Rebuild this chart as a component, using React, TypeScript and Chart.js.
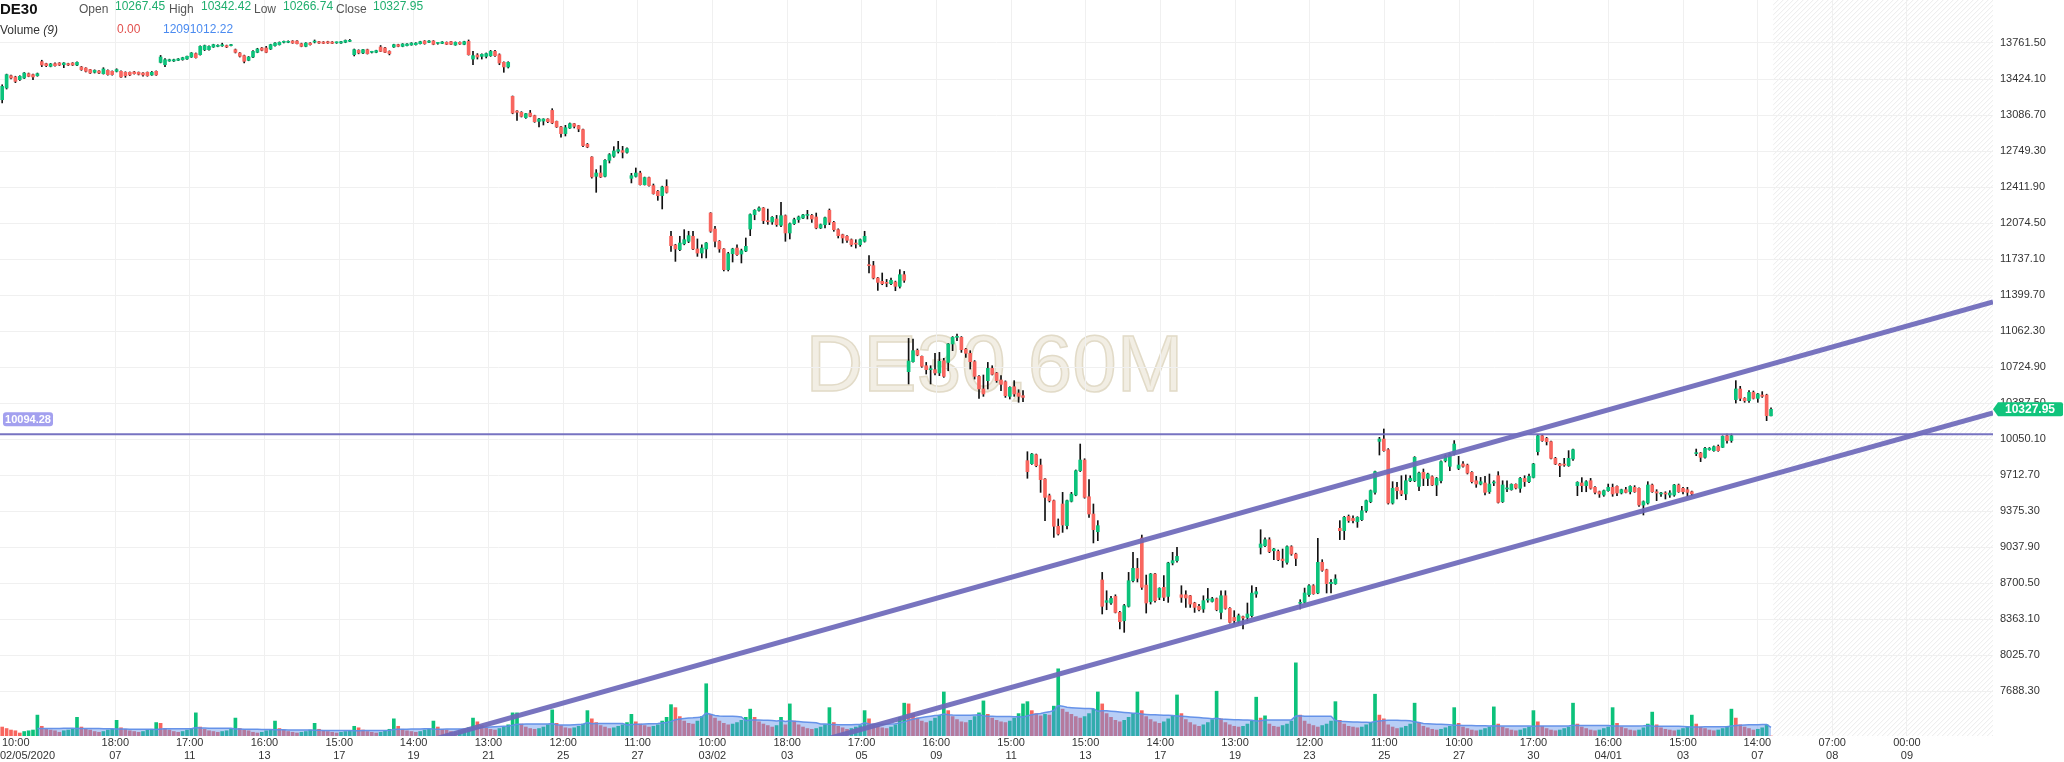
import React, { useEffect, useRef } from 'react';
import { Chart, registerables } from 'chart.js';

Chart.register(...registerables);

// DE30 hourly candles, one entry per bar (oldest first)
const opens: number[] = [
  13230, 13340, 13455, 13443, 13418, 13433, 13474, 13465, 13455, 13587,
  13568, 13543, 13568, 13574, 13558, 13568, 13574, 13555, 13537, 13527,
  13512, 13487, 13499, 13474, 13505, 13496, 13496, 13496, 13487, 13487,
  13490, 13487, 13480, 13487, 13462, 13496, 13580, 13558, 13593, 13593,
  13599, 13605, 13612, 13630, 13662, 13652, 13699, 13699, 13724, 13730,
  13735, 13737, 13737, 13699, 13668, 13643, 13599, 13630, 13674, 13715,
  13715, 13705, 13737, 13746, 13768, 13768, 13780, 13780, 13755, 13730,
  13761, 13770, 13774, 13771, 13774, 13771, 13763, 13761, 13768, 13777,
  13652, 13693, 13668, 13699, 13674, 13674, 13724, 13715, 13683, 13724,
  13746, 13730, 13737, 13743, 13746, 13755, 13780, 13768, 13780, 13758,
  13758, 13768, 13774, 13743, 13768, 13749, 13777, 13611, 13649, 13636,
  13636, 13643, 13683, 13652, 13580, 13537, 13261, 13124, 13112, 13062,
  13105, 13081, 13027, 13030, 13049, 13130, 13027, 12975, 12912, 12965,
  13005, 12987, 12950, 12812, 12693, 12512, 12543, 12512, 12662, 12700,
  12746, 12753, 12737, 12493, 12512, 12543, 12434, 12500, 12425, 12372,
  12331, 12418, 11950, 11868, 11825, 11880, 11903, 11950, 11831, 11793,
  11831, 12168, 12018, 11903, 11831, 11637, 11787, 11840, 11784, 11812,
  12018, 12153, 12193, 12215, 12096, 12084, 12112, 12053, 12143, 11981,
  12068, 12106, 12121, 12146, 12146, 12131, 12028, 12059, 12193, 12081,
  12012, 11965, 11950, 11918, 11880, 11871, 11903, 11678, 11675, 11559,
  11528, 11512, 11506, 11521, 11481, 11590, 10681, 10775, 10881, 10825,
  10737, 10700, 10700, 10669, 10784, 10768, 10941, 11003, 11003, 10893,
  10853, 10775, 10637, 10519, 10597, 10712, 10669, 10603, 10587, 10450,
  10540, 10481, 10456, 9847, 9819, 9903, 9806, 9675, 9519, 9472,
  9232, 9441, 9238, 9466, 9525, 9753, 9853, 9509, 9347, 9181,
  8729, 8519, 8513, 8575, 8425, 8347, 8482, 8722, 8838, 9122,
  8681, 8525, 8785, 8566, 8660, 8575, 8888, 8910, 8590, 8590,
  8581, 8513, 8482, 8456, 8541, 8528, 8553, 8425, 8581, 8463,
  8378, 8340, 8385, 8378, 8394, 8597, 9034, 9050, 9106, 9003,
  8997, 8925, 8894, 9041, 8972, 8510, 8519, 8591, 8675, 8607,
  8894, 8825, 8694, 8694, 9213, 9191, 9325, 9306, 9275, 9294,
  9378, 9463, 9550, 10028, 10050, 9950, 9450, 9597, 9566, 9535,
  9659, 9659, 9606, 9738, 9681, 9697, 9619, 9659, 9847, 9794,
  9910, 9775, 9816, 9806, 9738, 9659, 9628, 9638, 9556, 9638,
  9706, 9463, 9582, 9575, 9625, 9588, 9681, 9650, 9690, 9931,
  10081, 10056, 10025, 9869, 9816, 9810, 9800, 9863, 9613, 9638,
  9613, 9659, 9597, 9556, 9525, 9566, 9597, 9606, 9544, 9575,
  9556, 9597, 9588, 9431, 9450, 9619, 9556, 9535, 9538, 9525,
  9525, 9619, 9588, 9575, 9556, 9913, 9919, 9878, 9950, 9941,
  9981, 9972, 10081, 10035, 10419, 10519, 10431, 10409, 10487, 10431,
  10462, 10462, 10267.45,
];

const highs: number[] = [
  13370, 13470, 13462, 13450, 13455, 13485, 13480, 13470, 13480, 13600,
  13572, 13570, 13575, 13578, 13578, 13572, 13578, 13585, 13542, 13530,
  13515, 13510, 13502, 13530, 13510, 13500, 13520, 13500, 13492, 13490,
  13495, 13490, 13484, 13490, 13495, 13500, 13645, 13615, 13610, 13610,
  13616, 13628, 13640, 13672, 13668, 13735, 13742, 13735, 13750, 13745,
  13760, 13742, 13750, 13705, 13672, 13648, 13635, 13690, 13712, 13720,
  13730, 13750, 13766, 13772, 13780, 13782, 13784, 13784, 13760, 13765,
  13765, 13790, 13778, 13775, 13778, 13775, 13772, 13778, 13790, 13795,
  13705, 13698, 13702, 13704, 13684, 13694, 13738, 13720, 13688, 13750,
  13750, 13756, 13756, 13765, 13765, 13778, 13784, 13784, 13784, 13768,
  13775, 13772, 13778, 13772, 13772, 13778, 13790, 13683, 13662, 13660,
  13668, 13692, 13692, 13660, 13585, 13586, 13265, 13128, 13118, 13102,
  13130, 13085, 13055, 13052, 13052, 13146, 13030, 12980, 12990, 13012,
  13008, 12990, 12955, 12820, 12696, 12575, 12612, 12670, 12725, 12790,
  12840, 12793, 12780, 12540, 12590, 12560, 12505, 12505, 12440, 12380,
  12420, 12480, 11997, 11875, 11950, 12012, 11997, 11997, 11925, 11870,
  11892, 12172, 12043, 11910, 11835, 11800, 11838, 11870, 11830, 11934,
  12160, 12200, 12225, 12220, 12205, 12135, 12146, 12268, 12150, 12075,
  12120, 12140, 12155, 12193, 12155, 12168, 12065, 12130, 12206, 12090,
  12020, 11970, 11956, 11925, 11918, 11925, 11997, 11768, 11715, 11565,
  11606, 11546, 11559, 11530, 11637, 11621, 10993, 10987, 10894, 10828,
  10768, 10737, 10853, 10862, 10806, 10945, 11010, 11034, 11010, 10900,
  10878, 10785, 10645, 10650, 10768, 10737, 10675, 10644, 10595, 10540,
  10597, 10512, 10503, 9931, 9915, 9909, 9862, 9680, 9534, 9478,
  9301, 9550, 9478, 9550, 9760, 10003, 9865, 9669, 9441, 9285,
  8800, 8628, 8575, 8590, 8435, 8500, 8800, 8988, 8931, 9150,
  8775, 8790, 8790, 8656, 8770, 8895, 8988, 9034, 8675, 8628,
  8585, 8520, 8500, 8581, 8650, 8566, 8560, 8628, 8628, 8470,
  8441, 8410, 8390, 8513, 8675, 8660, 9200, 9125, 9125, 9025,
  9010, 9019, 9050, 9050, 8980, 8544, 8653, 8685, 8685, 9119,
  8919, 8830, 8732, 8778, 9285, 9325, 9338, 9331, 9322, 9419,
  9478, 9572, 9750, 10066, 10144, 9960, 9650, 9644, 9706, 9713,
  9706, 9885, 9740, 9769, 9730, 9705, 9690, 9845, 9900, 9920,
  10035, 9888, 9838, 9815, 9745, 9700, 9690, 9700, 9722, 9659,
  9744, 9659, 9659, 9630, 9630, 9690, 9706, 9722, 9822, 10090,
  10090, 10066, 10030, 9878, 9822, 9869, 9941, 9955, 9650, 9688,
  9660, 9681, 9605, 9562, 9572, 9628, 9628, 9612, 9580, 9597,
  9612, 9613, 9592, 9470, 9650, 9628, 9575, 9550, 9556, 9566,
  9625, 9628, 9597, 9597, 9562, 9956, 9925, 9972, 9970, 9985,
  9994, 10080, 10097, 10097, 10597, 10544, 10438, 10503, 10500, 10478,
  10494, 10470, 10342.42,
];

const lows: number[] = [
  13200, 13330, 13425, 13390, 13410, 13428, 13445, 13418, 13450, 13540,
  13540, 13538, 13545, 13550, 13530, 13550, 13550, 13550, 13505, 13490,
  13475, 13480, 13475, 13470, 13460, 13460, 13490, 13438, 13440, 13455,
  13470, 13462, 13450, 13450, 13458, 13458, 13575, 13540, 13590, 13588,
  13596, 13600, 13608, 13626, 13620, 13648, 13690, 13694, 13720, 13726,
  13730, 13718, 13733, 13668, 13630, 13575, 13595, 13625, 13670, 13688,
  13670, 13700, 13732, 13742, 13762, 13764, 13758, 13752, 13726, 13726,
  13742, 13762, 13758, 13755, 13758, 13755, 13758, 13758, 13764, 13774,
  13640, 13660, 13662, 13658, 13668, 13670, 13680, 13670, 13650, 13720,
  13726, 13726, 13734, 13740, 13742, 13752, 13750, 13765, 13745, 13750,
  13755, 13746, 13745, 13740, 13748, 13745, 13648, 13558, 13611, 13611,
  13621, 13636, 13636, 13558, 13487, 13527, 13098, 13036, 13068, 13055,
  13070, 13018, 12975, 12993, 13015, 13005, 12970, 12880, 12890, 12960,
  12965, 12930, 12790, 12780, 12495, 12362, 12500, 12506, 12637, 12690,
  12730, 12684, 12730, 12450, 12505, 12430, 12430, 12420, 12345, 12287,
  12206, 12355, 11809, 11715, 11815, 11870, 11890, 11825, 11762, 11747,
  11747, 11987, 11850, 11800, 11625, 11625, 11709, 11770, 11700, 11806,
  11956, 12105, 12185, 12068, 12062, 12062, 12043, 12040, 11903, 11925,
  12060, 12080, 12115, 12112, 12080, 12020, 12022, 12028, 12059, 11997,
  11934, 11887, 11893, 11856, 11840, 11856, 11895, 11606, 11550, 11443,
  11496, 11477, 11496, 11440, 11465, 11518, 10566, 10770, 10830, 10722,
  10659, 10566, 10650, 10644, 10628, 10690, 10878, 10972, 10862, 10815,
  10706, 10612, 10431, 10450, 10519, 10650, 10581, 10503, 10440, 10425,
  10450, 10394, 10400, 9682, 9812, 9790, 9550, 9285, 9460, 9128,
  9150, 9175, 9207, 9460, 9518, 9745, 9495, 9316, 9076, 9097,
  8410, 8450, 8500, 8420, 8270, 8238, 8475, 8710, 8710, 8640,
  8419, 8503, 8520, 8544, 8535, 8519, 8870, 8895, 8519, 8472,
  8472, 8425, 8440, 8425, 8520, 8522, 8440, 8363, 8455, 8325,
  8316, 8325, 8270, 8347, 8380, 8566, 8972, 9040, 8985, 8919,
  8910, 8847, 8878, 8960, 8863, 8457, 8513, 8575, 8595, 8600,
  8810, 8607, 8607, 8688, 9107, 9107, 9269, 9263, 9222, 9285,
  9363, 9453, 9534, 9900, 9935, 9440, 9440, 9488, 9519, 9481,
  9650, 9650, 9566, 9613, 9613, 9613, 9519, 9638, 9835, 9753,
  9900, 9763, 9785, 9722, 9638, 9597, 9620, 9525, 9540, 9613,
  9450, 9455, 9556, 9570, 9582, 9550, 9606, 9640, 9685, 9900,
  10028, 9994, 9863, 9810, 9697, 9794, 9794, 9850, 9519, 9556,
  9556, 9580, 9535, 9503, 9513, 9560, 9513, 9519, 9535, 9545,
  9535, 9550, 9419, 9338, 9440, 9550, 9472, 9513, 9488, 9503,
  9513, 9550, 9535, 9513, 9519, 9894, 9838, 9870, 9945, 9935,
  9935, 9970, 10012, 10019, 10387, 10409, 10394, 10394, 10425, 10394,
  10440, 10222, 10266.74,
];

const closes: number[] = [
  13355, 13465, 13433, 13402, 13449, 13480, 13449, 13443, 13474, 13555,
  13549, 13565, 13549, 13555, 13574, 13555, 13555, 13580, 13512, 13496,
  13480, 13505, 13480, 13518, 13465, 13465, 13512, 13443, 13455, 13462,
  13474, 13468, 13462, 13455, 13487, 13462, 13630, 13605, 13605, 13605,
  13612, 13624, 13637, 13668, 13624, 13730, 13737, 13730, 13746, 13740,
  13745, 13724, 13746, 13674, 13637, 13590, 13630, 13683, 13705, 13693,
  13674, 13746, 13761, 13768, 13770, 13777, 13761, 13755, 13730, 13761,
  13746, 13774, 13761, 13758, 13761, 13758, 13766, 13774, 13786, 13780,
  13699, 13668, 13699, 13662, 13677, 13690, 13683, 13674, 13662, 13746,
  13730, 13752, 13752, 13761, 13761, 13774, 13755, 13780, 13749, 13761,
  13771, 13749, 13749, 13768, 13752, 13774, 13652, 13643, 13630, 13655,
  13662, 13683, 13643, 13574, 13537, 13580, 13105, 13112, 13074, 13099,
  13074, 13024, 13049, 13049, 13024, 13012, 12975, 12912, 12968, 13005,
  12980, 12955, 12800, 12787, 12506, 12543, 12506, 12662, 12715, 12750,
  12762, 12737, 12771, 12518, 12543, 12434, 12500, 12425, 12350, 12331,
  12412, 12362, 11862, 11831, 11887, 11918, 11956, 11831, 11793, 11840,
  11887, 11997, 11903, 11831, 11637, 11787, 11831, 11778, 11815, 11856,
  12153, 12193, 12215, 12096, 12087, 12128, 12059, 12143, 11981, 12068,
  12106, 12131, 12150, 12150, 12112, 12028, 12059, 12124, 12081, 12012,
  11956, 11934, 11912, 11871, 11877, 11918, 11950, 11675, 11559, 11518,
  11506, 11509, 11537, 11481, 11590, 11537, 10781, 10878, 10837, 10731,
  10700, 10706, 10669, 10778, 10637, 10941, 11003, 11006, 10887, 10853,
  10775, 10637, 10519, 10472, 10712, 10656, 10597, 10562, 10456, 10534,
  10472, 10450, 10440, 9744, 9909, 9800, 9669, 9503, 9472, 9232,
  9160, 9244, 9472, 9534, 9753, 9853, 9503, 9347, 9200, 9238,
  8482, 8535, 8556, 8425, 8338, 8488, 8722, 8838, 8744, 8660,
  8513, 8785, 8535, 8650, 8566, 8888, 8910, 8950, 8566, 8560,
  8503, 8472, 8450, 8535, 8544, 8553, 8450, 8581, 8463, 8331,
  8347, 8394, 8372, 8410, 8606, 8619, 9066, 9106, 8994, 9019,
  8919, 8910, 9041, 8972, 8931, 8516, 8607, 8675, 8600, 8894,
  8819, 8694, 8707, 8738, 9191, 9316, 9285, 9285, 9316, 9378,
  9472, 9566, 9744, 10050, 9941, 9450, 9588, 9566, 9535, 9659,
  9681, 9878, 9731, 9681, 9722, 9619, 9681, 9838, 9888, 9910,
  10003, 9806, 9794, 9731, 9650, 9628, 9650, 9550, 9628, 9641,
  9456, 9619, 9585, 9625, 9591, 9681, 9650, 9700, 9816, 10081,
  10035, 10025, 9869, 9816, 9800, 9806, 9869, 9950, 9644, 9613,
  9650, 9588, 9550, 9535, 9566, 9597, 9535, 9544, 9575, 9550,
  9606, 9556, 9431, 9463, 9619, 9556, 9544, 9538, 9535, 9544,
  9619, 9556, 9556, 9550, 9535, 9919, 9878, 9963, 9963, 9978,
  9941, 10075, 10035, 10081, 10519, 10431, 10409, 10487, 10431, 10472,
  10450, 10269, 10327.95,
];

// volume per bar, millions
const volumes: number[] = [
  12, 10, 8, 7, 4, 6, 7, 8, 28, 13,
  9, 8, 7, 5, 7, 8, 9, 25, 12, 9,
  8, 6, 5, 6, 8, 9, 21, 11, 9, 7,
  6, 5, 6, 8, 9, 18, 17, 10, 8, 6,
  5, 6, 8, 10, 31, 12, 9, 7, 6, 5,
  6, 7, 9, 24, 10, 8, 7, 5, 4, 5,
  7, 8, 20, 10, 8, 6, 5, 4, 5, 6,
  8, 17, 9, 7, 6, 5, 4, 5, 6, 7,
  13, 11, 8, 6, 5, 4, 5, 7, 9, 23,
  13, 9, 7, 6, 5, 6, 8, 9, 20, 12,
  9, 8, 6, 5, 7, 9, 11, 24, 19, 14,
  11, 9, 8, 10, 12, 15, 31, 31, 16, 12,
  10, 9, 10, 12, 15, 35, 17, 14, 11, 10,
  11, 13, 16, 34, 23, 18, 14, 12, 10, 11,
  13, 15, 18, 29, 19, 16, 14, 12, 13, 15,
  20, 25, 42, 38, 26, 20, 17, 16, 20, 26,
  70, 29, 24, 20, 17, 15, 16, 18, 21, 25,
  36, 25, 19, 16, 14, 12, 14, 25, 15, 43,
  20, 15, 12, 10, 9, 10, 12, 15, 38, 18,
  13, 11, 9, 10, 12, 14, 34, 23, 16, 13,
  11, 10, 12, 15, 25, 44, 43, 30, 24, 20,
  18, 20, 24, 28, 59, 34, 26, 22, 19, 18,
  21, 26, 31, 47, 29, 24, 21, 19, 18, 20,
  24, 30, 43, 46, 34, 30, 27, 29, 28, 40,
  90, 36, 32, 29, 26, 24, 26, 30, 36, 59,
  43, 30, 25, 21, 19, 21, 25, 30, 59, 34,
  26, 22, 19, 17, 19, 23, 27, 55, 30, 22,
  18, 15, 13, 15, 18, 22, 60, 23, 18, 15,
  13, 12, 13, 16, 20, 52, 24, 27, 16, 13,
  12, 14, 16, 20, 98, 28, 20, 16, 14, 12,
  14, 16, 20, 46, 21, 16, 13, 12, 11, 12,
  15, 18, 56, 28, 23, 15, 12, 10, 11, 13,
  16, 44, 18, 13, 11, 9, 8, 9, 11, 13,
  38, 17, 12, 10, 8, 7, 8, 10, 12, 39,
  16, 12, 10, 8, 7, 8, 10, 12, 34, 19,
  13, 10, 8, 7, 8, 10, 12, 44, 16, 12,
  10, 8, 7, 8, 10, 12, 38, 17, 12, 10,
  8, 7, 8, 11, 16, 32, 15, 11, 9, 8,
  7, 8, 10, 12, 28, 16, 12, 10, 8, 7,
  8, 10, 13, 36, 24, 15, 12, 10, 8, 9,
  11, 15, 0,
];

const priceTicks: number[] = [
  7688.3, 8025.7, 8363.1, 8700.5, 9037.9, 9375.3, 9712.7, 10050.1, 10387.5, 10724.9,
  11062.3, 11399.7, 11737.1, 12074.5, 12411.9, 12749.3, 13086.7, 13424.1, 13761.5,
];

// bar position of each time label on the bottom axis
const tickSlots: number[] = [
  25.7, 42.6, 59.6, 76.6, 93.5, 110.5, 127.5, 144.4, 161.4, 178.4, 195.3, 212.3, 229.3,
  246.2, 263.2, 280.2, 297.1, 314.1, 331.1, 348.0, 365.0, 382.0, 398.9, 415.9, 432.9,
];
const tickTimes: string[] = [
  '18:00', '17:00', '16:00', '15:00', '14:00', '13:00', '12:00', '11:00', '10:00', '18:00',
  '17:00', '16:00', '15:00', '15:00', '14:00', '13:00', '12:00', '11:00', '10:00', '17:00',
  '16:00', '15:00', '14:00', '07:00', '00:00',
];
const tickDays: string[] = [
  '07', '11', '13', '17', '19', '21', '25', '27', '03/02', '03',
  '05', '09', '11', '13', '17', '19', '23', '25', '27', '30',
  '04/01', '03', '07', '08', '09',
];

const levelPrice = 10094.28;
const upperChannel = [{ x: 90, y: 7142 }, { x: 452.45, y: 11334 }];
const lowerChannel = [{ x: 180, y: 7153 }, { x: 452.45, y: 10294 }];

const symbol = 'DE30';
const lastOpen = '10267.45';
const lastHigh = '10342.42';
const lastLow = '10266.74';
const lastClose = '10327.95';
const lastVolume = '0.00';
const volumeAvgText = '12091012.22';

const UP = '#0cc27b';
const DOWN = '#f8665f';
const CHANNEL = 'rgba(108,104,186,0.92)';
const FONT = "'Liberation Sans', Arial, sans-serif";

const decorPlugin = {
  id: 'decor',
  beforeDraw(chart: any) {
    const { ctx, chartArea: a, scales } = chart;
    const hatchStart = scales.x.getPixelForValue(opens.length - 0.5);
    const h = a.bottom - a.top;

    // future area hatch
    ctx.save();
    ctx.beginPath();
    ctx.rect(hatchStart, a.top, a.right - hatchStart, h);
    ctx.clip();
    ctx.strokeStyle = '#ebebeb';
    ctx.lineWidth = 1;
    ctx.beginPath();
    for (let d = -h; d < a.right - hatchStart; d += 5) {
      ctx.moveTo(hatchStart + d, a.bottom);
      ctx.lineTo(hatchStart + d + h, a.top);
    }
    ctx.stroke();
    ctx.restore();

    // watermark
    ctx.save();
    ctx.font = `80px ${FONT}`;
    ctx.textAlign = 'center';
    ctx.textBaseline = 'alphabetic';
    ctx.fillStyle = '#f2eee4';
    ctx.fillText('DE30,60M', (a.left + a.right) / 2 - 2, a.top + 391);
    ctx.strokeStyle = '#e2dbc8';
    ctx.lineWidth = 1.5;
    ctx.strokeText('DE30,60M', (a.left + a.right) / 2 - 2, a.top + 391);
    ctx.restore();
  },
  afterDraw(chart: any) {
    const { ctx, chartArea: a, scales } = chart;
    ctx.save();

    // last price tag on the price axis
    const py = scales.y.getPixelForValue(parseFloat(lastClose));
    ctx.fillStyle = '#10c47c';
    ctx.beginPath();
    ctx.moveTo(a.right, py);
    ctx.lineTo(a.right + 5, py - 7);
    ctx.lineTo(a.right + 68, py - 7);
    ctx.quadraticCurveTo(a.right + 70, py - 7, a.right + 70, py - 5);
    ctx.lineTo(a.right + 70, py + 5);
    ctx.quadraticCurveTo(a.right + 70, py + 7, a.right + 68, py + 7);
    ctx.lineTo(a.right + 5, py + 7);
    ctx.closePath();
    ctx.fill();
    ctx.fillStyle = '#fff';
    ctx.font = `bold 12px ${FONT}`;
    ctx.textAlign = 'center';
    ctx.textBaseline = 'middle';
    ctx.fillText(lastClose, a.right + 37, py + 0.5);

    // level tag on the left
    const ly = scales.y.getPixelForValue(levelPrice);
    ctx.fillStyle = '#a3a0ef';
    ctx.beginPath();
    if (ctx.roundRect) ctx.roundRect(3, ly - 22, 50, 14, 3);
    else ctx.rect(3, ly - 22, 50, 14);
    ctx.fill();
    ctx.fillStyle = '#fff';
    ctx.font = `bold 11px ${FONT}`;
    ctx.fillText(levelPrice.toFixed(2), 28, ly - 14.5);

    // first date label, pinned to the left edge
    ctx.fillStyle = '#333';
    ctx.font = `11px ${FONT}`;
    ctx.textAlign = 'left';
    ctx.fillText('10:00', 2, a.bottom + 7.3);
    ctx.fillText('02/05/2020', 0, a.bottom + 20);

    // header
    ctx.textBaseline = 'alphabetic';
    ctx.fillStyle = '#111';
    ctx.font = `bold 15px ${FONT}`;
    ctx.fillText(symbol, 0, 13.5);
    ctx.font = `12px ${FONT}`;
    const labels: [string, number][] = [['Open', 79], ['High', 169], ['Low', 254], ['Close', 336]];
    const values: [string, number][] = [[lastOpen, 115], [lastHigh, 201], [lastLow, 283], [lastClose, 373]];
    ctx.fillStyle = '#555';
    labels.forEach(([t, x]) => ctx.fillText(t, x, 13));
    ctx.fillStyle = '#1fae6e';
    values.forEach(([t, x]) => ctx.fillText(t, x, 9.5));
    ctx.fillStyle = '#333';
    ctx.fillText('Volume ', 0, 33.5);
    const vw = ctx.measureText('Volume ').width;
    ctx.font = `italic 12px ${FONT}`;
    ctx.fillText('(9)', vw, 33.5);
    ctx.font = `12px ${FONT}`;
    ctx.fillStyle = '#e2514e';
    ctx.fillText(lastVolume, 117, 33);
    ctx.fillStyle = '#4b8bf0';
    ctx.fillText(volumeAvgText, 163, 33);

    ctx.restore();
  },
};

const App: React.FC = () => {
  const chartRef = useRef<HTMLCanvasElement | null>(null);

  useEffect(() => {
    document.body.style.margin = '0';
    if (!chartRef.current) return;
    const ctx = chartRef.current.getContext('2d');

    Chart.defaults.font.family = FONT;

    const idx = opens.map((_, i) => i);
    const bodies = idx.map((i) => ({ x: i, y: [opens[i], closes[i]] }));
    const wicks = idx.map((i) => ({ x: i, y: [lows[i], highs[i]] }));
    const bodyColors = idx.map((i) => (closes[i] >= opens[i] ? UP : DOWN));
    const volData = idx.map((i) => ({ x: i, y: volumes[i] }));
    const volColors = idx.map((i) => (i > 0 && volumes[i] >= volumes[i - 1] ? UP : DOWN));
    // "Volume (9)": 9-bar moving average of the volume
    const volAvg = idx
      .filter((i) => i >= 8)
      .map((i) => ({ x: i, y: volumes.slice(i - 8, i + 1).reduce((s, v) => s + v, 0) / 9 }));

    const chartInstance = new Chart(ctx as any, {
      type: 'bar',
      data: {
        datasets: [
          {
            type: 'line',
            data: [{ x: -0.5, y: levelPrice }, { x: 452.45, y: levelPrice }],
            borderColor: 'rgba(112,108,190,0.95)',
            borderWidth: 2,
            pointRadius: 0,
            yAxisID: 'y',
            order: 0,
            clip: 0,
          },
          {
            type: 'line',
            data: upperChannel,
            borderColor: CHANNEL,
            borderWidth: 5,
            pointRadius: 0,
            yAxisID: 'y',
            order: 1,
            clip: 0,
          },
          {
            type: 'line',
            data: lowerChannel,
            borderColor: CHANNEL,
            borderWidth: 5,
            pointRadius: 0,
            yAxisID: 'y',
            order: 2,
            clip: 0,
          },
          {
            data: bodies,
            backgroundColor: bodyColors,
            barThickness: 3,
            minBarLength: 1,
            grouped: false,
            borderWidth: 0,
            yAxisID: 'y',
            order: 3,
          },
          {
            data: wicks,
            backgroundColor: '#111',
            barThickness: 1,
            grouped: false,
            borderWidth: 0,
            yAxisID: 'y',
            order: 4,
          },
          {
            type: 'line',
            data: volAvg,
            borderColor: 'rgba(96,142,232,0.95)',
            borderWidth: 1.5,
            backgroundColor: 'rgba(98,146,236,0.45)',
            fill: 'origin',
            pointRadius: 0,
            tension: 0,
            yAxisID: 'yv',
            order: 5,
          },
          {
            data: volData,
            backgroundColor: volColors,
            barThickness: 3,
            grouped: false,
            borderWidth: 0,
            yAxisID: 'yv',
            order: 6,
          },
        ] as any,
      },
      options: {
        animation: false,
        responsive: true,
        maintainAspectRatio: false,
        events: [],
        layout: { padding: 0 },
        plugins: { legend: { display: false }, tooltip: { enabled: false } },
        scales: {
          x: {
            type: 'linear',
            min: -0.5,
            max: 452.45,
            offset: false,
            afterBuildTicks: (s: any) => {
              s.ticks = tickSlots.map((v) => ({ value: v }));
            },
            afterFit: (s: any) => {
              s.height = 26;
              s.paddingLeft = 0;
              s.paddingRight = 0;
            },
            ticks: {
              autoSkip: false,
              maxRotation: 0,
              minRotation: 0,
              padding: 1,
              color: '#333',
              font: { size: 11, lineHeight: 1.15 },
              callback: (_v: any, i: number) => [tickTimes[i], tickDays[i]],
            },
            grid: { color: '#f0f0f0', drawTicks: false, offset: false },
            border: { display: false },
          },
          y: {
            type: 'linear',
            position: 'right',
            min: 7266.6,
            max: 14164.5,
            afterBuildTicks: (s: any) => {
              s.ticks = priceTicks.map((v) => ({ value: v }));
            },
            afterFit: (s: any) => {
              s.width = 71;
              s.paddingTop = 0;
              s.paddingBottom = 0;
            },
            ticks: {
              padding: 7,
              color: '#333',
              font: { size: 11 },
              callback: (v: any) => Number(v).toFixed(2),
            },
            grid: { color: '#f0f0f0', drawTicks: false },
            border: { display: false },
          },
          yv: {
            type: 'linear',
            display: false,
            min: 0,
            max: 986,
          },
        },
      } as any,
      plugins: [decorPlugin],
    });

    return () => {
      chartInstance.destroy();
    };
  }, []);

  return (
    <div style={{ position: 'relative', width: 2064, height: 762 }}>
      <canvas ref={chartRef} />
    </div>
  );
};

export default App;
